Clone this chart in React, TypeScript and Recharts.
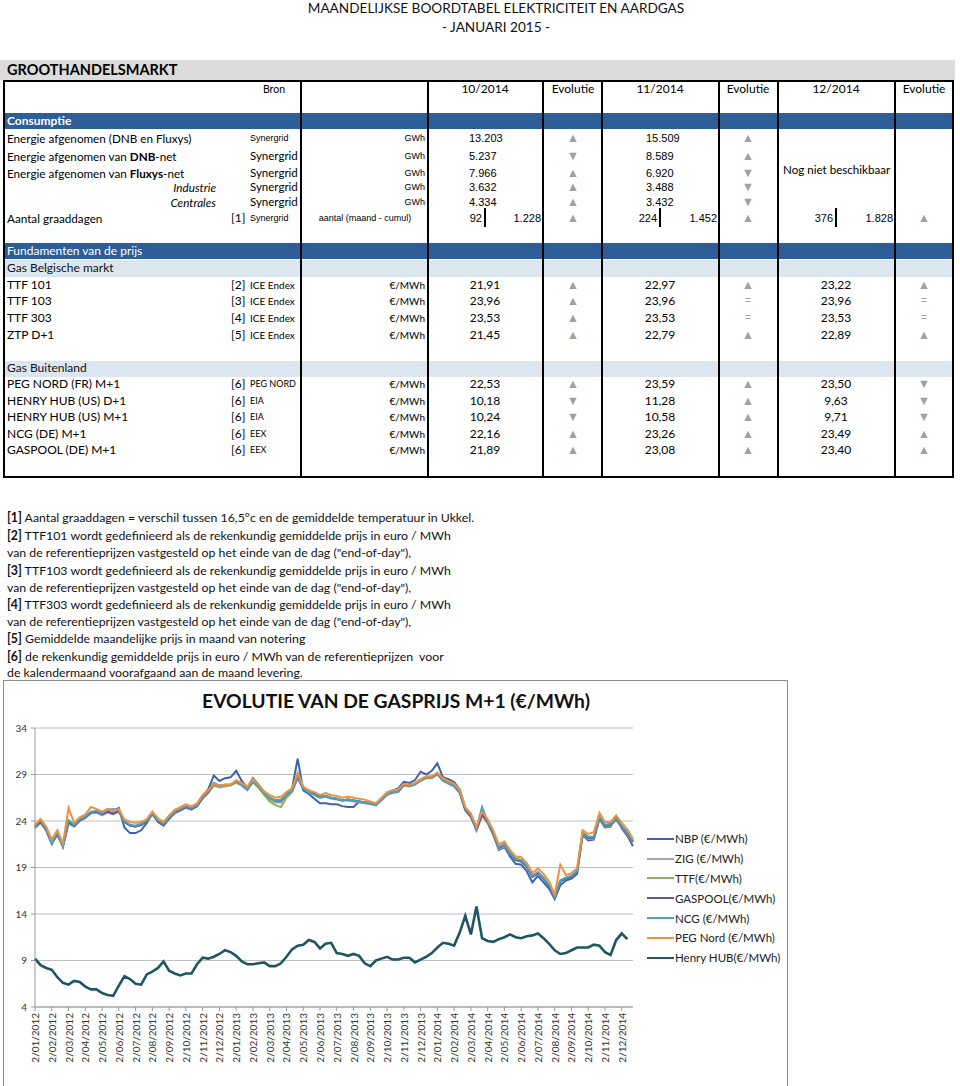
import React from 'react';
import { LineChart, Line, XAxis, YAxis, CartesianGrid, Legend } from 'recharts';

// x axis: one tick per month, data sampled three times per month
const MONTH_LABELS = [
  '2/01/2012', '2/02/2012', '2/03/2012', '2/04/2012', '2/05/2012', '2/06/2012',
  '2/07/2012', '2/08/2012', '2/09/2012', '2/10/2012', '2/11/2012', '2/12/2012',
  '2/01/2013', '2/02/2013', '2/03/2013', '2/04/2013', '2/05/2013', '2/06/2013',
  '2/07/2013', '2/08/2013', '2/09/2013', '2/10/2013', '2/11/2013', '2/12/2013',
  '2/01/2014', '2/02/2014', '2/03/2014', '2/04/2014', '2/05/2014', '2/06/2014',
  '2/07/2014', '2/08/2014', '2/09/2014', '2/10/2014', '2/11/2014', '2/12/2014',
];
const Y_TICKS = [4, 9, 14, 19, 24, 29, 34];

const NBP = [
  23.3, 23.9, 23.0, 21.5, 22.6, 21.2, 23.8, 23.4, 24.0, 24.4, 24.9, 25.0, 24.9, 25.3, 25.1, 25.4, 23.3, 22.7,
  22.7, 23.0, 23.8, 24.8, 23.9, 23.5, 24.2, 24.9, 25.2, 25.5, 25.3, 25.6, 26.7, 27.4, 28.9, 28.3, 28.6, 28.7,
  29.4, 28.3, 27.6, 28.6, 27.9, 27.0, 26.4, 26.1, 26.0, 26.8, 27.5, 30.7, 27.3, 26.9, 26.4, 25.9, 25.9, 25.8,
  25.8, 25.6, 25.5, 25.5, 26.1, 26.0, 25.9, 25.7, 26.3, 27.0, 27.3, 27.5, 28.2, 28.1, 28.4, 29.3, 29.0, 29.4,
  30.2, 28.7, 28.5, 28.2, 27.4, 25.4, 24.7, 23.0, 24.6, 23.8, 22.5, 20.9, 21.2, 20.2, 19.4, 19.3, 18.6, 17.4,
  18.1, 17.4, 16.7, 15.6, 17.1, 17.6, 17.8, 18.3, 22.5, 21.9, 22.0, 24.2, 23.3, 23.4, 24.5, 23.2, 22.4, 21.3,
];
const ZIG = [
  23.2, 23.8, 23.0, 21.6, 22.5, 21.3, 23.7, 23.4, 24.0, 24.3, 24.8, 24.9, 24.6, 24.9, 24.7, 25.0, 23.9, 23.5,
  23.4, 23.6, 24.0, 24.7, 24.0, 23.6, 24.3, 24.8, 25.1, 25.4, 25.2, 25.6, 26.4, 27.0, 27.8, 27.6, 27.7, 27.8,
  28.1, 27.8, 27.3, 28.2, 27.6, 26.9, 26.3, 26.0, 26.0, 26.6, 27.1, 28.6, 27.5, 27.1, 26.8, 26.5, 26.6, 26.4,
  26.3, 26.2, 26.2, 26.1, 26.0, 25.9, 25.8, 25.7, 26.2, 26.8, 27.0, 27.1, 27.8, 27.7, 27.9, 28.3, 28.6, 28.6,
  29.0, 28.3, 28.0, 27.7, 27.0, 25.1, 24.4, 23.0, 24.6, 23.8, 22.6, 21.0, 21.3, 20.4, 19.8, 19.6, 19.0, 18.0,
  18.3, 17.8, 17.0, 15.8, 17.5, 17.8, 18.0, 18.5, 22.6, 22.1, 22.1, 24.3, 23.4, 23.5, 24.1, 23.3, 22.6, 21.7,
];
const TTF = [
  23.3, 23.9, 23.1, 21.7, 22.6, 21.3, 23.8, 23.5, 24.1, 24.4, 24.9, 25.0, 24.7, 25.0, 24.8, 25.1, 23.9, 23.5,
  23.4, 23.6, 24.0, 24.8, 24.0, 23.6, 24.3, 24.9, 25.2, 25.5, 25.3, 25.6, 26.5, 27.1, 27.9, 27.7, 27.8, 27.9,
  28.2, 27.9, 27.4, 28.2, 27.6, 26.8, 26.1, 25.7, 25.5, 26.5, 27.2, 28.7, 27.5, 27.2, 26.9, 26.6, 26.7, 26.5,
  26.4, 26.2, 26.3, 26.2, 26.1, 26.0, 25.9, 25.7, 26.3, 26.9, 27.1, 27.2, 27.9, 27.8, 28.0, 28.4, 28.7, 28.7,
  29.1, 28.4, 28.1, 27.8, 27.1, 25.2, 24.5, 23.1, 24.7, 23.9, 22.7, 21.2, 21.6, 20.7, 20.0, 19.8, 19.2, 18.1,
  18.4, 17.9, 17.1, 15.9, 17.6, 17.9, 18.1, 18.6, 22.7, 22.2, 22.2, 24.4, 23.5, 23.6, 24.2, 23.4, 22.7, 21.8,
];
const GASPOOL = [
  23.4, 23.9, 23.1, 21.7, 22.6, 21.4, 23.9, 23.5, 24.1, 24.4, 24.9, 25.0, 24.7, 25.0, 24.8, 25.1, 23.9, 23.5,
  23.4, 23.6, 24.0, 24.8, 24.0, 23.6, 24.3, 24.9, 25.2, 25.5, 25.3, 25.6, 26.5, 27.1, 28.0, 27.8, 27.9, 27.9,
  28.3, 27.9, 27.4, 28.3, 27.7, 27.0, 26.5, 26.2, 26.2, 26.8, 27.3, 28.8, 27.4, 27.3, 26.9, 26.6, 26.7, 26.5,
  26.4, 26.2, 26.3, 26.2, 26.1, 26.0, 25.9, 25.7, 26.3, 26.9, 27.1, 27.2, 27.9, 27.8, 28.0, 28.4, 28.7, 28.7,
  29.1, 28.4, 28.1, 27.8, 27.1, 25.2, 24.5, 23.1, 24.7, 23.9, 22.7, 21.1, 21.4, 20.5, 19.8, 19.7, 19.1, 18.0,
  18.4, 17.8, 17.0, 15.8, 17.5, 17.8, 18.0, 18.5, 22.7, 22.2, 22.2, 24.4, 23.5, 23.6, 24.2, 23.4, 22.7, 21.8,
];
const NCG = [
  23.5, 24.1, 23.2, 21.6, 22.8, 21.3, 24.1, 23.6, 24.2, 24.5, 25.0, 25.1, 24.8, 25.2, 25.3, 25.2, 24.0, 23.6,
  23.5, 23.7, 24.1, 24.9, 24.1, 23.7, 24.4, 25.0, 25.3, 25.6, 25.4, 25.7, 26.6, 27.2, 28.1, 27.8, 27.9, 27.9,
  28.3, 27.9, 27.4, 28.3, 27.7, 27.0, 26.5, 26.2, 26.3, 26.8, 27.3, 28.9, 27.5, 27.1, 26.8, 26.5, 26.7, 26.5,
  26.4, 26.2, 26.3, 26.2, 26.1, 26.0, 25.9, 25.7, 26.3, 26.9, 27.1, 27.2, 27.9, 27.8, 28.0, 28.4, 28.7, 28.7,
  29.1, 28.4, 28.1, 27.8, 27.2, 25.3, 24.7, 23.2, 25.5, 24.0, 22.8, 21.2, 21.5, 20.6, 19.9, 19.8, 19.2, 18.1,
  18.5, 17.9, 17.1, 15.9, 17.6, 17.9, 18.1, 18.6, 22.8, 22.3, 22.3, 24.5, 23.6, 23.7, 24.3, 23.5, 22.8, 21.9,
];
const PEG_NORD = [
  23.6, 24.2, 23.4, 22.0, 23.0, 21.6, 25.4, 23.8, 24.4, 24.7, 25.5, 25.3, 25.0, 25.3, 25.1, 25.3, 24.2, 23.9,
  23.8, 23.9, 24.2, 25.0, 24.3, 23.9, 24.6, 25.2, 25.5, 25.8, 25.6, 25.9, 26.8, 27.3, 28.0, 27.8, 27.9, 27.9,
  28.4, 28.1, 27.7, 28.5, 27.9, 27.2, 26.8, 26.5, 26.6, 27.1, 27.5, 29.2, 27.7, 27.3, 27.1, 26.8, 27.0, 26.8,
  26.7, 26.5, 26.6, 26.5, 26.4, 26.3, 26.1, 25.9, 26.5, 27.1, 27.3, 27.4, 28.0, 27.9, 28.1, 28.5, 28.8, 28.8,
  29.2, 28.6, 28.3, 28.0, 27.4, 25.5, 24.8, 23.4, 25.0, 24.2, 23.0, 21.5, 21.8, 20.9, 20.2, 20.1, 19.5, 18.4,
  18.9, 18.3, 17.5, 16.1, 19.3, 18.2, 18.4, 18.9, 23.0, 22.6, 22.8, 24.9, 23.9, 23.9, 24.6, 23.8, 23.1, 22.1,
];
const HENRY_HUB = [
  9.2, 8.5, 8.2, 8.0, 7.2, 6.6, 6.4, 6.8, 6.7, 6.2, 5.9, 5.9, 5.5, 5.3, 5.2, 6.3, 7.3, 7.0,
  6.5, 6.4, 7.5, 7.8, 8.2, 8.9, 7.9, 7.6, 7.4, 7.6, 7.6, 8.6, 9.3, 9.2, 9.4, 9.7, 10.1, 9.9,
  9.5, 8.9, 8.6, 8.6, 8.7, 8.8, 8.4, 8.4, 8.7, 9.4, 10.2, 10.6, 10.7, 11.2, 11.0, 10.3, 10.8, 10.9,
  9.8, 9.7, 9.5, 9.7, 9.5, 8.7, 8.4, 9.0, 9.2, 9.4, 9.1, 9.1, 9.3, 9.3, 8.8, 9.1, 9.4, 9.8,
  10.4, 10.9, 10.8, 10.6, 12.0, 13.8, 11.8, 14.8, 11.4, 11.1, 11.0, 11.3, 11.5, 11.8, 11.5, 11.4, 11.6, 11.7,
  11.9, 11.4, 10.8, 10.1, 9.7, 9.8, 10.1, 10.4, 10.4, 10.4, 10.7, 10.6, 9.9, 9.6, 11.2, 11.9, 11.3, null,
];

const SERIES = [
  { key: 'nbp', name: 'NBP (€/MWh)', color: '#3C63AC', values: NBP, width: 2 },
  { key: 'zig', name: 'ZIG (€/MWh)', color: '#A5A5A5', values: ZIG, width: 2 },
  { key: 'ttf', name: 'TTF(€/MWh)', color: '#8DB24E', values: TTF, width: 2 },
  { key: 'gaspool', name: 'GASPOOL(€/MWh)', color: '#6A4E97', values: GASPOOL, width: 2 },
  { key: 'ncg', name: 'NCG (€/MWh)', color: '#47A4C2', values: NCG, width: 2 },
  { key: 'peg', name: 'PEG Nord (€/MWh)', color: '#F0913F', values: PEG_NORD, width: 2 },
  { key: 'hh', name: 'Henry HUB(€/MWh)', color: '#1E5763', values: HENRY_HUB, width: 2.6 },
];

const chartData = NBP.map((_, i) => {
  const row: any = { m: i / 3 };
  SERIES.forEach((s) => { row[s.key] = s.values[i]; });
  return row;
});

// table contents
const PERIODS = ['10/2014', '11/2014', '12/2014'];

const CONSUMPTION_ROWS = [
  { label: <>Energie afgenomen (DNB en Fluxys)</>, small: true, values: ['13.203', '15.509'], evo: ['up', 'up'] },
  { label: <>Energie afgenomen van <b>DNB</b>-net</>, values: ['5.237', '8.589'], evo: ['down', 'up'] },
  { label: <>Energie afgenomen van <b>Fluxys</b>-net</>, values: ['7.966', '6.920'], evo: ['up', 'down'] },
  { label: 'Industrie', sub: true, values: ['3.632', '3.488'], evo: ['up', 'down'] },
  { label: 'Centrales', sub: true, values: ['4.334', '3.432'], evo: ['up', 'down'] },
];
const CONSUMPTION_Y = [138, 156, 173, 187, 202];

const DEGREE_DAYS = { month: ['92', '224', '376'], cumul: ['1.228', '1.452', '1.828'], evo: ['up', 'up', 'up'] };

const BELGIAN_ROWS = [
  { label: 'TTF 101', ref: '[2]', src: 'ICE Endex', values: ['21,91', '22,97', '23,22'], evo: ['up', 'up', 'up'] },
  { label: 'TTF 103', ref: '[3]', src: 'ICE Endex', values: ['23,96', '23,96', '23,96'], evo: ['up', 'eq', 'eq'] },
  { label: 'TTF 303', ref: '[4]', src: 'ICE Endex', values: ['23,53', '23,53', '23,53'], evo: ['up', 'eq', 'eq'] },
  { label: 'ZTP D+1', ref: '[5]', src: 'ICE Endex', values: ['21,45', '22,79', '22,89'], evo: ['up', 'up', 'up'] },
];
const BELGIAN_Y = [285, 301, 318, 335];

const FOREIGN_ROWS = [
  { label: 'PEG NORD (FR) M+1', ref: '[6]', src: 'PEG NORD', values: ['22,53', '23,59', '23,50'], evo: ['up', 'up', 'down'] },
  { label: 'HENRY HUB (US) D+1', ref: '[6]', src: 'EIA', values: ['10,18', '11,28', '9,63'], evo: ['down', 'up', 'down'] },
  { label: 'HENRY HUB (US) M+1', ref: '[6]', src: 'EIA', values: ['10,24', '10,58', '9,71'], evo: ['down', 'up', 'down'] },
  { label: 'NCG (DE) M+1', ref: '[6]', src: 'EEX', values: ['22,16', '23,26', '23,49'], evo: ['up', 'up', 'up'] },
  { label: 'GASPOOL (DE) M+1', ref: '[6]', src: 'EEX', values: ['21,89', '23,08', '23,40'], evo: ['up', 'up', 'up'] },
];
const FOREIGN_Y = [384, 401, 417, 434, 450];

const FOOTNOTES: [string, string][] = [
  ['[1]', ' Aantal graaddagen = verschil tussen 16,5°c en de gemiddelde temperatuur in Ukkel.'],
  ['[2]', ' TTF101 wordt gedefinieerd als de rekenkundig gemiddelde prijs in euro / MWh'],
  ['', 'van de referentieprijzen vastgesteld op het einde van de dag ("end-of-day"),'],
  ['[3]', ' TTF103 wordt gedefinieerd als de rekenkundig gemiddelde prijs in euro / MWh'],
  ['', 'van de referentieprijzen vastgesteld op het einde van de dag ("end-of-day"),'],
  ['[4]', ' TTF303 wordt gedefinieerd als de rekenkundig gemiddelde prijs in euro / MWh'],
  ['', 'van de referentieprijzen vastgesteld op het einde van de dag ("end-of-day"),'],
  ['[5]', ' Gemiddelde maandelijke prijs in maand van notering'],
  ['[6]', ' de rekenkundig gemiddelde prijs in euro / MWh van de referentieprijzen  voor'],
  ['', 'de kalendermaand voorafgaand aan de maand levering.'],
];
const FOOTNOTE_Y = [518, 536, 553, 571, 588, 605, 622, 639, 657, 673];

const FONT = 'Lato, "Open Sans", sans-serif';
const ARIAL = '"Liberation Sans", Arial, sans-serif';

const COL_LINES = [301, 428, 543, 602, 719, 778, 895];
const VALUE_X = [485, 660, 836];
const EVO_X = [573, 748, 924];

const Txt = ({ x, y, children, align = 'left', size = 12, bold = false, italic = false, color = '#000', font = FONT, h = 20 }: any) => {
  const w = 420;
  const left = align === 'center' ? x - w / 2 : align === 'right' ? x - w : x;
  return (
    <div style={{
      position: 'absolute', left, top: y - h / 2, width: w, height: h, lineHeight: `${h}px`, textAlign: align,
      fontSize: size, fontWeight: bold ? 700 : 400, fontStyle: italic ? 'italic' : 'normal', color,
      fontFamily: font, whiteSpace: 'pre',
    }}>{children}</div>
  );
};

const Evo = ({ x, y, kind }: any) => (
  <Txt x={x} y={y} align="center" size={kind === 'eq' ? 10 : 12.5} color="#A0A0A0" font={ARIAL}>
    {kind === 'up' ? '▲' : kind === 'down' ? '▼' : '='}
  </Txt>
);

const Band = ({ top, height, color }: any) => (
  <div style={{ position: 'absolute', left: 4, top, width: 949, height, background: color }} />
);

const XTick = ({ x, y, payload }: any) => (
  <text x={x} y={y} transform={`rotate(-90, ${x}, ${y})`} textAnchor="end" dominantBaseline="central"
    fontSize={10} fill="#333" fontFamily={FONT}>
    {MONTH_LABELS[payload.value]}
  </text>
);

const LegendContent = ({ payload }: any) => {
  const items = [...(payload || [])].sort(
    (a: any, b: any) => SERIES.findIndex((s) => s.name === a.value) - SERIES.findIndex((s) => s.name === b.value),
  );
  return (
    <div style={{ paddingLeft: 14 }}>
      {items.map((p: any) => (
        <div key={p.value} style={{ display: 'flex', alignItems: 'center', height: 19.8 }}>
          <svg width={27} height={4} style={{ display: 'block' }}>
            <line x1={0} y1={2} x2={27} y2={2} stroke={p.color} strokeWidth={2} />
          </svg>
          <span style={{ fontSize: 11.5, color: '#222', fontFamily: FONT, marginLeft: 1, whiteSpace: 'nowrap' }}>{p.value}</span>
        </div>
      ))}
    </div>
  );
};

const App = () => {
  return (
    <div style={{ position: 'absolute', left: 0, top: 0, width: 960, height: 1086, background: '#fff', overflow: 'hidden', fontFamily: FONT }}>
      <Txt x={496} y={8} h={16} align="center" size={13.6} color="#111">MAANDELIJKSE BOORDTABEL ELEKTRICITEIT EN AARDGAS</Txt>
      <Txt x={496} y={27} align="center" size={13.6} color="#111">- JANUARI 2015 -</Txt>

      <div style={{ position: 'absolute', left: 0, top: 60, width: 955, height: 20, background: '#DCDCDC' }} />
      <Txt x={7} y={70} size={14.5} bold>GROOTHANDELSMARKT</Txt>

      {/* table bands */}
      <Band top={113} height={16} color="#2E5E97" />
      <Band top={243} height={16} color="#2E5E97" />
      <Band top={260} height={17} color="#DCE6F1" />
      <Band top={361} height={16} color="#DCE6F1" />

      {/* header */}
      <Txt x={285} y={89} align="right" size={10.5}>Bron</Txt>
      {PERIODS.map((p, i) => (
        <React.Fragment key={p}>
          <Txt x={VALUE_X[i]} y={89} align="center" size={12}>{p}</Txt>
          <Txt x={EVO_X[i]} y={89} align="center" size={12}>Evolutie</Txt>
        </React.Fragment>
      ))}

      {/* consumption */}
      <Txt x={7} y={121} size={12} bold color="#fff">Consumptie</Txt>
      {CONSUMPTION_ROWS.map((r, i) => {
        const y = CONSUMPTION_Y[i];
        return (
          <React.Fragment key={i}>
            {r.sub
              ? <Txt x={216} y={y} align="right" size={11.7} italic>{r.label}</Txt>
              : <Txt x={7} y={y} size={11.7}>{r.label}</Txt>}
            {r.small
              ? <Txt x={250} y={y} size={9} font={ARIAL}>Synergrid</Txt>
              : <Txt x={250} y={y} size={11.5}>Synergrid</Txt>}
            <Txt x={425} y={y} align="right" size={9} font={ARIAL}>GWh</Txt>
            {r.values.map((v, j) => (
              <React.Fragment key={j}>
                <Txt x={j === 0 ? 469 : 646} y={y} size={11} font={ARIAL}>{v}</Txt>
                <Evo x={EVO_X[j]} y={y} kind={r.evo[j]} />
              </React.Fragment>
            ))}
          </React.Fragment>
        );
      })}
      <Txt x={783} y={170} size={11.6}>Nog niet beschikbaar</Txt>

      <Txt x={7} y={218} size={11.7}>Aantal graaddagen</Txt>
      <Txt x={231} y={218} size={12}>[1]</Txt>
      <Txt x={250} y={218} size={9} font={ARIAL}>Synergrid</Txt>
      <Txt x={365} y={218} align="center" size={9} font={ARIAL}>aantal (maand - cumul)</Txt>
      {DEGREE_DAYS.month.map((v, i) => {
        const bar = VALUE_X[i] - 1;
        return (
          <React.Fragment key={i}>
            <Txt x={bar - 2} y={218} align="right" size={11} font={ARIAL}>{v}</Txt>
            <div style={{ position: 'absolute', left: bar, top: 208, width: 2, height: 19, background: '#000' }} />
            <Txt x={COL_LINES[2 * i + 2] - 2} y={218} align="right" size={11} font={ARIAL}>{DEGREE_DAYS.cumul[i]}</Txt>
            <Evo x={EVO_X[i]} y={218} kind={DEGREE_DAYS.evo[i]} />
          </React.Fragment>
        );
      })}

      {/* price fundamentals */}
      <Txt x={7} y={251} size={12} color="#fff">Fundamenten van de prijs</Txt>
      <Txt x={7} y={268} size={12} color="#111">Gas Belgische markt</Txt>
      <Txt x={7} y={368} size={12} color="#111">Gas Buitenland</Txt>
      {[...BELGIAN_ROWS.map((r, i) => ({ r, y: BELGIAN_Y[i] })), ...FOREIGN_ROWS.map((r, i) => ({ r, y: FOREIGN_Y[i] }))].map(({ r, y }) => (
        <React.Fragment key={r.label + y}>
          <Txt x={7} y={y} size={12}>{r.label}</Txt>
          <Txt x={231} y={y} size={12}>{r.ref}</Txt>
          <Txt x={250} y={y} size={r.src === 'ICE Endex' ? 10 : 9}>{r.src}</Txt>
          <Txt x={425} y={y} align="right" size={10}>€/MWh</Txt>
          {r.values.map((v, j) => (
            <React.Fragment key={j}>
              <Txt x={VALUE_X[j]} y={y} align="center" size={12}>{v}</Txt>
              <Evo x={EVO_X[j]} y={y} kind={r.evo[j]} />
            </React.Fragment>
          ))}
        </React.Fragment>
      ))}

      {/* table frame */}
      {COL_LINES.map((x) => (
        <div key={x} style={{ position: 'absolute', left: x - 1, top: 80, width: 2, height: 397, background: '#000' }} />
      ))}
      <div style={{ position: 'absolute', left: 3, top: 80, width: 951, height: 398, border: '2px solid #000', boxSizing: 'border-box' }} />

      {/* footnotes */}
      {FOOTNOTES.map(([ref, text], i) => (
        <Txt key={i} x={7} y={FOOTNOTE_Y[i]} size={12.3} color="#111">
          {ref ? <b>{ref}</b> : null}{text}
        </Txt>
      ))}

      {/* chart */}
      <div style={{ position: 'absolute', left: 3, top: 680, width: 785, height: 410, border: '1px solid #8C8C8C', boxSizing: 'border-box' }} />
      <Txt x={396} y={701} h={24} align="center" size={19.3} bold color="#111">EVOLUTIE VAN DE GASPRIJS M+1 (€/MWh)</Txt>
      <div style={{ position: 'absolute', left: 0, top: 680 }}>
        <LineChart width={790} height={406} data={chartData} margin={{ top: 48, right: 7, bottom: 7, left: 0 }}>
          <CartesianGrid vertical={false} stroke="#C0C0C0" strokeWidth={1} />
          <XAxis
            type="number"
            dataKey="m"
            domain={[0, 35.67]}
            ticks={MONTH_LABELS.map((_, i) => i)}
            interval={0}
            tick={<XTick />}
            tickSize={4}
            tickMargin={2}
            height={72}
            stroke="#999"
          />
          <YAxis
            domain={[4, 34]}
            ticks={Y_TICKS}
            interval={0}
            width={35}
            tickSize={4}
            tickMargin={4}
            stroke="#999"
            tick={{ fontSize: 10, fill: '#333', fontFamily: FONT }}
          />
          <Legend
            layout="vertical"
            align="right"
            verticalAlign="top"
            content={<LegendContent />}
            wrapperStyle={{ top: 149, right: 7, width: 150 }}
          />
          {SERIES.map((s) => (
            <Line
              key={s.key}
              type="linear"
              dataKey={s.key}
              name={s.name}
              stroke={s.color}
              strokeWidth={s.width}
              dot={false}
              isAnimationActive={false}
              connectNulls={false}
            />
          ))}
        </LineChart>
      </div>
    </div>
  );
};

export default App;
